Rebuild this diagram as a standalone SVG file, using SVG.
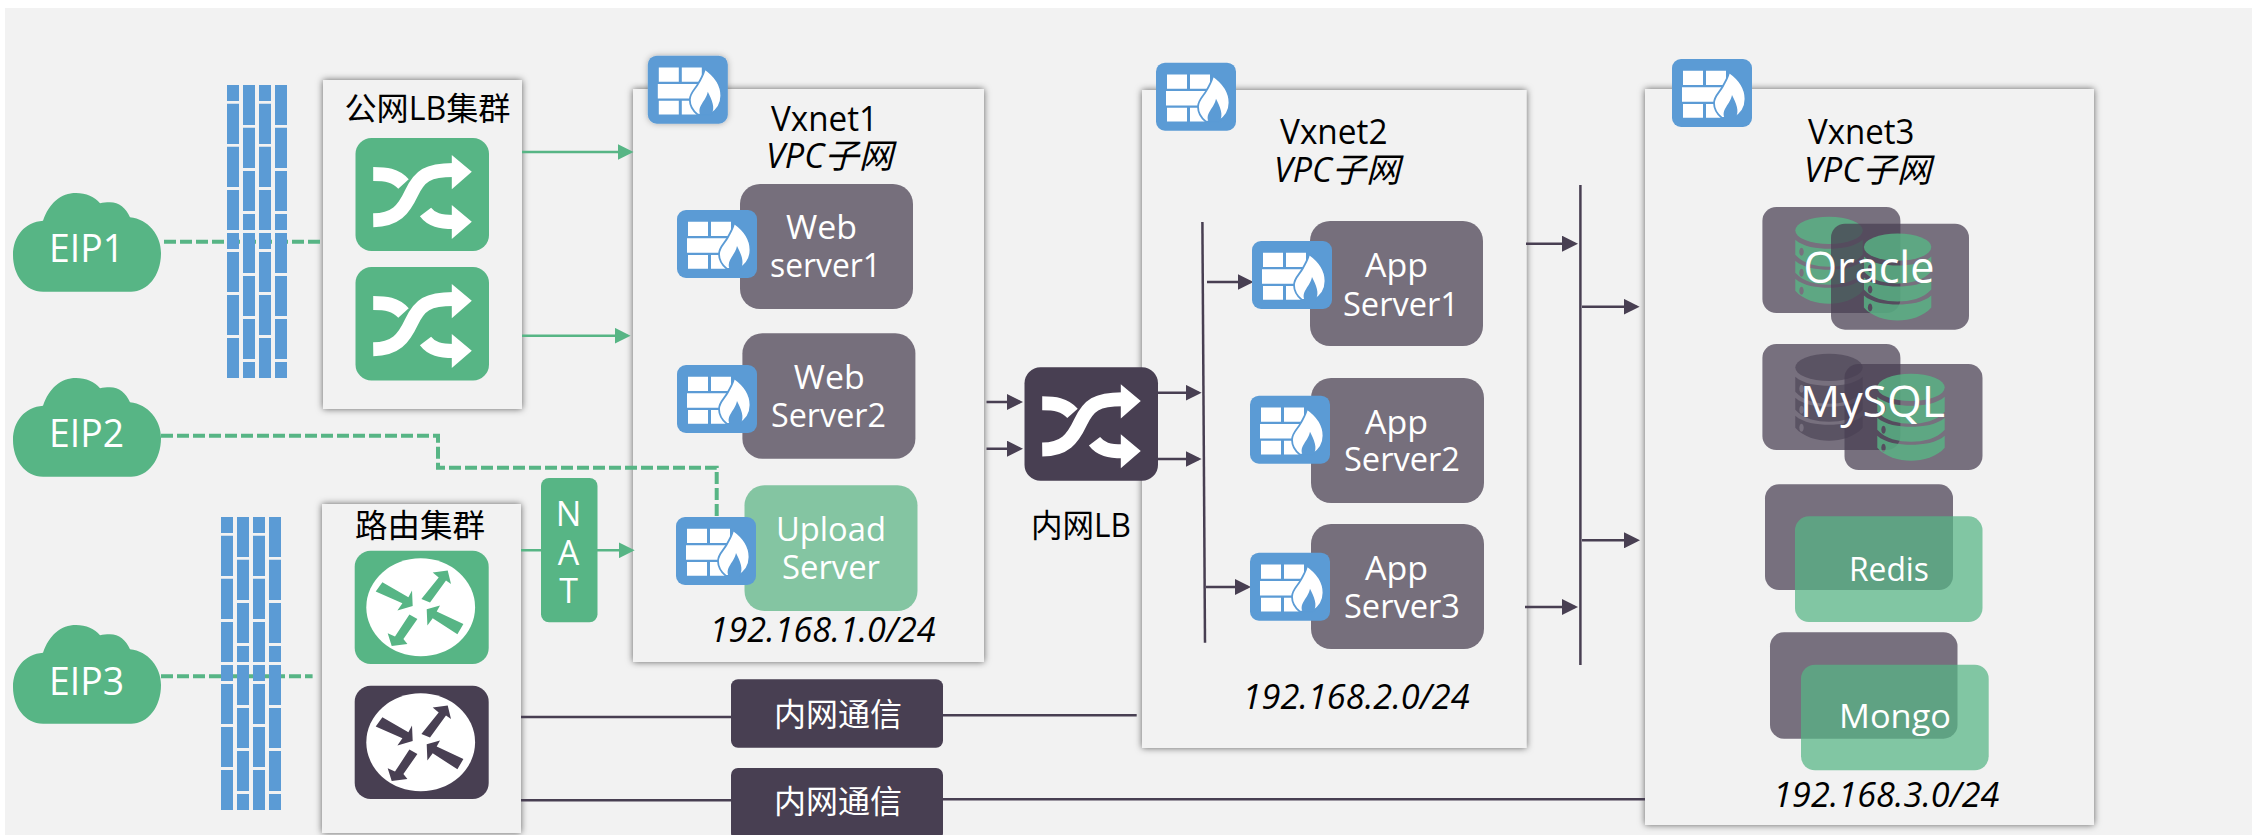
<svg xmlns="http://www.w3.org/2000/svg" width="2252" height="835" viewBox="0 0 2252 835">
<style>
text{font-family:"Open Sans","Noto Sans CJK SC",sans-serif}
.w{fill:#fff}.k{fill:#000}
.i{font-style:italic}
.s38{font-size:38px}.s35{font-size:35px}.s34{font-size:34px}.s33{font-size:33px}.s32{font-size:32px}.s43{font-size:43px}
.box{fill:#f2f2f2;filter:url(#sh)}
.gt{fill:#57b585}.dt{fill:#483f52}.grey{fill:#766f7c}
.lg{fill:#84c5a2}
.ta{fill:#483f52;fill-opacity:.73}.tg{fill:#57b585;fill-opacity:.73}
.bl{fill:#5b9bd5}
.dash{fill:none;stroke:#57b585;stroke-width:4;stroke-dasharray:12 4}
.ga{fill:none;stroke:#57b585;stroke-width:2.5;marker-end:url(#ag)}
.da{fill:none;stroke:#483f52;stroke-width:2.5;marker-end:url(#ad)}
.dl{fill:none;stroke:#483f52;stroke-width:2.5}
</style>
<defs>
<filter id="sh" x="-10%" y="-10%" width="120%" height="120%"><feDropShadow dx="0" dy="0" stdDeviation="3.5" flood-color="#000" flood-opacity=".6"/></filter>
<filter id="sh2" x="-20%" y="-20%" width="140%" height="140%"><feDropShadow dx="0" dy="0" stdDeviation="3" flood-color="#000" flood-opacity=".3"/></filter>
<marker id="ag" markerUnits="userSpaceOnUse" markerWidth="16" markerHeight="16" refX="13" refY="8" orient="auto"><path d="M0 0L16 8L0 16Z" fill="#57b585"/></marker>
<marker id="ad" markerUnits="userSpaceOnUse" markerWidth="16" markerHeight="16" refX="13" refY="8" orient="auto"><path d="M0 0L16 8L0 16Z" fill="#483f52"/></marker>
<path id="cloud" class="gt" d="M30 98.7C12 98.7 0 82 0 62C0 43 12 29 30 27.7C36 10 48 0 63 0C73 0 82 4 87 10.3C90 9.5 93 9.3 97 9.3C106 9.3 113 15 117 24.3C135 26 148 42 148 60C148 82 135 98.7 118 98.7Z"/>
<path id="wall" class="bl" d="M0 0h12v16h-12zM0 18.7h12v40.3h-12zM0 61.7h12v40.3h-12zM0 105h12v40h-12zM0 148h12v16h-12zM0 167h12v40h-12zM0 210h12v40h-12zM0 253h12v40h-12zM32 0h12v16h-12zM32 18.7h12v40.3h-12zM32 61.7h12v40.3h-12zM32 105h12v40h-12zM32 148h12v16h-12zM32 167h12v40h-12zM32 210h12v40h-12zM32 253h12v40h-12zM16 0h12v40h-12zM16 42.7h12v40.3h-12zM16 86h12v40h-12zM16 129h12v16h-12zM16 148h12v40h-12zM16 191h12v40h-12zM16 234h12v40h-12zM16 277h12v16h-12zM48 0h12v40h-12zM48 42.7h12v40.3h-12zM48 86h12v40h-12zM48 129h12v16h-12zM48 148h12v40h-12zM48 191h12v40h-12zM48 234h12v40h-12zM48 277h12v16h-12z"/>
<g id="fw">
<rect class="bl" width="80" height="68" rx="9"/>
<path class="w" d="M11 11.700h20v14.300h-20zM34 11.700h20v14.300h-20zM10 28.300h40v14.400h-40zM11 45h20v13.700h-20zM34 45h17v13.700h-17z"/>
<path class="w" stroke="#5b9bd5" stroke-width="1.800" d="M57 13C67 20 73.500 30 73.500 40C73.500 48 69 55 62 59L50 59C45 55 42 50 42 44C42 37 48 33 51 27C53 23 56 19 57 13Z"/>
<path class="bl" d="M52.500 59C49 50 58 46 60 36C64 44 68 52 63.500 59Z"/>
</g>
<g id="shuffle">
<path fill="none" stroke="currentColor" stroke-width="14" d="M17.700 82.300C40 82 48 72 56 55C64 38 72 32 98 32M17.700 36C30 36 40 37 48 46M70 74C76 82 85 84 98 84"/>
<path fill="currentColor" d="M96.300 17L116.300 33.700L96.300 51.300ZM96.300 67L116.300 83.700L96.300 101Z"/>
</g>
<g id="router-arrows">
<polygon points="-38.300,-25 -12.300,-10 -8.700,-16.700 -8,-1.300 -23.300,3.300 -18.300,-4 -45,-15.700"/>
<polygon points="0.700,-8.300 18,-29.700 12,-34.700 27,-36.700 30.300,-23.300 25.300,-26.700 9.300,-4.700"/>
<polygon points="42.700,16.700 16,4.300 19.300,-1.700 6,2 6.700,18.300 12,11 36.700,27"/>
<polygon points="-11.300,7.300 -3.300,11.700 -17.300,31.700 -13.300,36.700 -29,38.700 -33,26 -25.700,29.300"/>
</g>
<g id="db">
<ellipse cx="0" cy="13.700" rx="33.700" ry="13.700"/>
<path fill-rule="evenodd" d="M-33.700 23C-26 30 -12 32 0 32C12 32 26 30 33.700 23V38C26 47 12 50 0 50C-12 50 -26 47 -33.700 38ZM-27.500 31a2.200 4 0 1 0 .01 0Z"/>
<path fill-rule="evenodd" d="M-33.700 44C-26 51 -12 53 0 53C12 53 26 51 33.700 44V56C26 65 12 68 0 68C-12 68 -26 65 -33.700 56ZM-27.500 52a2.200 4 0 1 0 .01 0Z"/>
<path fill-rule="evenodd" d="M-33.700 62C-26 69 -12 71 0 71C12 71 26 69 33.700 62V74C26 83 12 87 0 87C-12 87 -26 83 -33.700 74ZM-27.500 70a2.200 4 0 1 0 .01 0Z"/>
</g>
</defs>
<rect width="2252" height="835" fill="#fff"/>
<rect id="background" x="5" y="8" width="2247" height="827" fill="#f2f2f2"/>

<g id="lb-cluster"><rect class="box" x="323" y="80" width="199" height="329"/></g>
<g id="router-cluster"><rect class="box" x="322" y="504" width="199" height="329"/></g>
<g id="vxnet1"><rect class="box" x="633" y="89" width="351" height="573"/></g>
<g id="vxnet2"><rect class="box" x="1142" y="90" width="384.500" height="658"/></g>
<g id="vxnet3"><rect class="box" x="1645" y="89" width="449" height="736"/></g>

<g id="connectors">
<path class="dash" d="M164 241.700H323"/>
<path class="dash" d="M161 435.700H438V467.700H716.700V517"/>
<path class="dash" d="M161 676.300H312.600"/>
<path class="ga" d="M522 152H630.500"/>
<path class="ga" d="M522 335.700H627.600"/>
<path class="ga" d="M521 550.300H631.700"/>
<path class="dl" d="M521 717H731"/>
<path class="dl" d="M943 715.300H1136.700"/>
<path class="dl" d="M521 800.300H731"/>
<path class="dl" d="M943 799.300H1645"/>
<path class="da" d="M986.500 402H1020"/>
<path class="da" d="M986.500 448.700H1020"/>
<path class="da" d="M1158 392.700H1198.600"/>
<path class="da" d="M1158 459H1198.600"/>
<path class="dl" d="M1202.400 222L1205 642.700"/>
<path class="da" d="M1207 282H1250.500"/>
<path class="da" d="M1206 587H1248"/>
<path class="dl" d="M1580.400 185V665"/>
<path class="da" d="M1526 243.700H1575"/>
<path class="da" d="M1525 607H1575"/>
<path class="da" d="M1582 306.700H1636.600"/>
<path class="da" d="M1582 540.300H1637"/>
</g>

<g id="eip1"><use href="#cloud" x="13" y="193"/><text class="w s38" x="49" y="262.300" textLength="75" lengthAdjust="spacingAndGlyphs">EIP1</text></g>
<g id="eip2"><use href="#cloud" x="13" y="378"/><text class="w s38" x="49" y="447.300" textLength="75" lengthAdjust="spacingAndGlyphs">EIP2</text></g>
<g id="eip3"><use href="#cloud" x="13" y="625"/><text class="w s38" x="49" y="695" textLength="75" lengthAdjust="spacingAndGlyphs">EIP3</text></g>

<g id="wall1"><use href="#wall" x="227" y="85"/></g>
<g id="wall2"><use href="#wall" x="221" y="517"/></g>

<g id="lb-cluster-content">
<text class="k s32" x="344.500" y="120" textLength="166" lengthAdjust="spacingAndGlyphs">公网LB集群</text>
<rect class="gt" x="355.500" y="138" width="133.500" height="113" rx="16"/>
<use href="#shuffle" x="355.500" y="138" color="#fff"/>
<rect class="gt" x="355.500" y="267" width="133.500" height="113.500" rx="16"/>
<use href="#shuffle" x="355.500" y="267" color="#fff"/>
</g>
<g id="router-cluster-content">
<text class="k s32" x="355" y="537" textLength="130" lengthAdjust="spacingAndGlyphs">路由集群</text>
<rect class="gt" x="354.700" y="550.700" width="134" height="113.300" rx="16"/>
<ellipse class="w" cx="420.700" cy="607.300" rx="54.400" ry="49"/>
<g transform="translate(420.700 607.300)" fill="#57b585"><use href="#router-arrows"/></g>
<rect class="dt" x="354.700" y="685.700" width="134" height="113.300" rx="16"/>
<ellipse class="w" cx="420.700" cy="742.300" rx="54.400" ry="49"/>
<g transform="translate(420.700 742.300)" fill="#483f52"><use href="#router-arrows"/></g>
</g>

<g id="nat">
<rect class="gt" x="541" y="478" width="56.500" height="144.300" rx="8"/>
<g class="w s34" text-anchor="middle">
<text x="568.600" y="526">N</text><text x="568.600" y="565">A</text><text x="568.600" y="602.700">T</text>
</g>
</g>

<g id="vxnet1-content">
<use href="#fw" x="647.800" y="55.700" filter="url(#sh2)"/>
<text class="k s35" x="771" y="130.700" textLength="107" lengthAdjust="spacingAndGlyphs">Vxnet1</text>
<text class="k i s34" x="766" y="168.300" textLength="127" lengthAdjust="spacingAndGlyphs">VPC子网</text>
<text class="k i s34" x="709.600" y="642.300" textLength="226" lengthAdjust="spacingAndGlyphs">192.168.1.0/24</text>
</g>
<g id="web1">
<rect class="grey" x="740" y="184" width="173" height="125" rx="20"/>
<use href="#fw" x="677" y="210"/>
<text class="w s33" x="786" y="238.800" textLength="71" lengthAdjust="spacingAndGlyphs">Web</text>
<text class="w s33" x="770" y="277" textLength="111" lengthAdjust="spacingAndGlyphs">server1</text>
</g>
<g id="web2">
<rect class="grey" x="742.400" y="333.300" width="173" height="125.400" rx="20"/>
<use href="#fw" x="677" y="365"/>
<text class="w s33" x="793.700" y="389" textLength="71" lengthAdjust="spacingAndGlyphs">Web</text>
<text class="w s33" x="771" y="427" textLength="115" lengthAdjust="spacingAndGlyphs">Server2</text>
</g>
<g id="upload">
<rect class="lg" x="744.500" y="485.300" width="173" height="125.700" rx="20"/>
<use href="#fw" x="676" y="517"/>
<text class="w s33" x="776" y="540.500" textLength="110" lengthAdjust="spacingAndGlyphs">Upload</text>
<text class="w s33" x="782" y="578.500" textLength="98" lengthAdjust="spacingAndGlyphs">Server</text>
</g>

<g id="internal-lb">
<rect class="dt" x="1024.500" y="367.300" width="133.500" height="113.400" rx="16"/>
<use href="#shuffle" x="1024.500" y="367.300" color="#fff"/>
<text class="k s32" x="1031" y="537" textLength="100" lengthAdjust="spacingAndGlyphs">内网LB</text>
</g>

<g id="link1"><rect class="dt" x="731" y="679.300" width="212" height="68.400" rx="7"/>
<text class="w s32" x="774" y="726" textLength="128" lengthAdjust="spacingAndGlyphs">内网通信</text></g>
<g id="link2"><rect class="dt" x="731" y="768" width="212" height="72" rx="7"/>
<text class="w s32" x="774" y="813" textLength="128" lengthAdjust="spacingAndGlyphs">内网通信</text></g>

<g id="vxnet2-content">
<use href="#fw" x="1156" y="62.700"/>
<text class="k s35" x="1280" y="143.600" textLength="107.500" lengthAdjust="spacingAndGlyphs">Vxnet2</text>
<text class="k i s34" x="1274" y="181.600" textLength="126" lengthAdjust="spacingAndGlyphs">VPC子网</text>
<text class="k i s34" x="1242.600" y="709" textLength="227" lengthAdjust="spacingAndGlyphs">192.168.2.0/24</text>
</g>
<g id="app1">
<rect class="grey" x="1310" y="221" width="173" height="125" rx="20"/>
<use href="#fw" x="1252" y="241"/>
<text class="w s33" x="1365" y="277" textLength="63" lengthAdjust="spacingAndGlyphs">App</text>
<text class="w s33" x="1343" y="315.500" textLength="116" lengthAdjust="spacingAndGlyphs">Server1</text>
</g>
<g id="app2">
<rect class="grey" x="1311" y="378" width="173" height="125" rx="20"/>
<use href="#fw" x="1250" y="395.700"/>
<text class="w s33" x="1365" y="433.500" textLength="63" lengthAdjust="spacingAndGlyphs">App</text>
<text class="w s33" x="1344" y="471" textLength="116" lengthAdjust="spacingAndGlyphs">Server2</text>
</g>
<g id="app3">
<rect class="grey" x="1311" y="524" width="173" height="125" rx="20"/>
<use href="#fw" x="1250" y="552.700"/>
<text class="w s33" x="1365" y="580" textLength="63" lengthAdjust="spacingAndGlyphs">App</text>
<text class="w s33" x="1344" y="617.500" textLength="116" lengthAdjust="spacingAndGlyphs">Server3</text>
</g>

<g id="vxnet3-content">
<use href="#fw" x="1672" y="59"/>
<text class="k s35" x="1808" y="144" textLength="106.500" lengthAdjust="spacingAndGlyphs">Vxnet3</text>
<text class="k i s34" x="1804" y="181.700" textLength="127" lengthAdjust="spacingAndGlyphs">VPC子网</text>
<text class="k i s34" x="1773.300" y="806.700" textLength="226" lengthAdjust="spacingAndGlyphs">192.168.3.0/24</text>
</g>
<g id="oracle">
<rect class="ta" x="1762.400" y="207" width="138" height="106" rx="14"/>
<use href="#db" x="1829" y="216.700" fill="#57b585" fill-opacity=".8"/>
<rect class="ta" x="1831" y="223.700" width="138" height="106" rx="14"/>
<use href="#db" x="1897.600" y="233.400" fill="#57b585" fill-opacity=".8"/>
<text class="w s43" x="1803.500" y="282.700" textLength="131" lengthAdjust="spacingAndGlyphs">Oracle</text>
</g>
<g id="mysql">
<rect class="ta" x="1762.400" y="344" width="138" height="106" rx="14"/>
<use href="#db" x="1829" y="353.700" fill="#483f52" fill-opacity=".6"/>
<rect class="ta" x="1844.500" y="364" width="138" height="106" rx="14"/>
<use href="#db" x="1911" y="373.700" fill="#57b585" fill-opacity=".8"/>
<text class="w s43" x="1800" y="416.700" textLength="145" lengthAdjust="spacingAndGlyphs">MySQL</text>
</g>
<g id="redis">
<rect class="ta" x="1765" y="484.300" width="188" height="105.700" rx="14"/>
<rect class="tg" x="1795" y="516.300" width="187.500" height="105.700" rx="14"/>
<text class="w s33" x="1849" y="581" textLength="80" lengthAdjust="spacingAndGlyphs">Redis</text>
</g>
<g id="mongo">
<rect class="ta" x="1770" y="632.300" width="187.500" height="106.400" rx="14"/>
<rect class="tg" x="1801" y="664.700" width="187.700" height="105.600" rx="14"/>
<text class="w s33" x="1839" y="728" textLength="112" lengthAdjust="spacingAndGlyphs">Mongo</text>
</g>
</svg>
